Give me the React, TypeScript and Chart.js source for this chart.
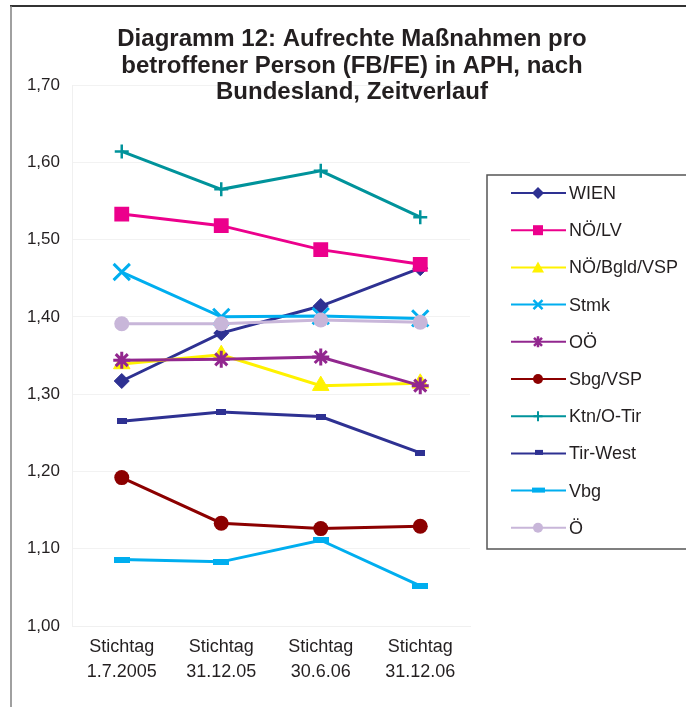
import React, { useEffect, useRef } from "react";
import { Chart, registerables } from "chart.js";

Chart.register(...registerables);

const categories: string[][] = [
  ["Stichtag", "1.7.2005"],
  ["Stichtag", "31.12.05"],
  ["Stichtag", "30.6.06"],
  ["Stichtag", "31.12.06"],
];

const titleLines = [
  "Diagramm 12: Aufrechte Maßnahmen pro",
  "betroffener Person (FB/FE) in APH, nach",
  "Bundesland, Zeitverlauf",
];

const seriesNames = [
  "WIEN",
  "NÖ/LV",
  "NÖ/Bgld/VSP",
  "Stmk",
  "OÖ",
  "Sbg/VSP",
  "Ktn/O-Tir",
  "Tir-West",
  "Vbg",
  "Ö",
];

const wien = [1.317, 1.379, 1.414, 1.463];
const noeLv = [1.533, 1.518, 1.487, 1.468];
const noeBgldVsp = [1.339, 1.351, 1.311, 1.314];
const stmk = [1.458, 1.4, 1.401, 1.398];
const ooe = [1.344, 1.345, 1.348, 1.311];
const sbgVsp = [1.192, 1.133, 1.126, 1.129];
const ktnOTir = [1.614, 1.565, 1.589, 1.529];
const tirWest = [1.265, 1.277, 1.271, 1.224];
const vbg = [1.086, 1.083, 1.111, 1.052];
const oesterreich = [1.391, 1.391, 1.396, 1.393];

const seriesValues = [wien, noeLv, noeBgldVsp, stmk, ooe, sbgVsp, ktnOTir, tirWest, vbg, oesterreich];

const seriesColors = [
  "#2E3192",
  "#EC008C",
  "#FFF200",
  "#00AEEF",
  "#92278F",
  "#8C0000",
  "#00939B",
  "#2E3192",
  "#00AEEF",
  "#C8B6D9",
];

const seriesMarkers = ["rectRot", "rect", "triangle", "crossRot", "star", "circle", "cross", "barS", "barL", "circle"];

const FONT = "'Liberation Sans', Arial, sans-serif";
const TEXT = "#231F20";

function makeBar(w: number, h: number, color: string): HTMLCanvasElement {
  const c = document.createElement("canvas");
  c.width = w;
  c.height = h;
  const g = c.getContext("2d")!;
  g.fillStyle = color;
  g.fillRect(0, 0, w, h);
  return c;
}

function drawMarker(ctx: CanvasRenderingContext2D, style: string, x: number, y: number, color: string) {
  ctx.save();
  ctx.fillStyle = color;
  ctx.strokeStyle = color;
  ctx.lineWidth = 2.5;
  ctx.beginPath();
  switch (style) {
    case "rectRot":
      ctx.moveTo(x, y - 6);
      ctx.lineTo(x + 6, y);
      ctx.lineTo(x, y + 6);
      ctx.lineTo(x - 6, y);
      ctx.closePath();
      ctx.fill();
      break;
    case "rect":
      ctx.fillRect(x - 5, y - 5, 10, 10);
      break;
    case "triangle":
      ctx.moveTo(x, y - 6);
      ctx.lineTo(x + 6, y + 5);
      ctx.lineTo(x - 6, y + 5);
      ctx.closePath();
      ctx.fill();
      break;
    case "crossRot":
      ctx.moveTo(x - 4.5, y - 4.5);
      ctx.lineTo(x + 4.5, y + 4.5);
      ctx.moveTo(x + 4.5, y - 4.5);
      ctx.lineTo(x - 4.5, y + 4.5);
      ctx.stroke();
      break;
    case "star":
      ctx.moveTo(x - 4, y - 4);
      ctx.lineTo(x + 4, y + 4);
      ctx.moveTo(x + 4, y - 4);
      ctx.lineTo(x - 4, y + 4);
      ctx.moveTo(x, y - 5.5);
      ctx.lineTo(x, y + 5.5);
      ctx.stroke();
      break;
    case "circle":
      ctx.arc(x, y, 5, 0, Math.PI * 2);
      ctx.fill();
      break;
    case "cross":
      ctx.lineWidth = 2;
      ctx.moveTo(x - 4.5, y);
      ctx.lineTo(x + 4.5, y);
      ctx.moveTo(x, y - 5);
      ctx.lineTo(x, y + 5);
      ctx.stroke();
      break;
    case "barS":
      ctx.fillRect(x - 3, y - 3.5, 8, 5);
      break;
    case "barL":
      ctx.fillRect(x - 6, y - 3, 13, 5);
      break;
  }
  ctx.restore();
}

const decorPlugin = {
  id: "decor",
  beforeDraw(chart: any) {
    const ctx = chart.ctx as CanvasRenderingContext2D;
    ctx.save();
    ctx.fillStyle = "#ffffff";
    ctx.fillRect(0, 0, chart.width, chart.height);
    ctx.strokeStyle = "#333333";
    ctx.lineWidth = 2;
    ctx.beginPath();
    ctx.moveTo(10, 6);
    ctx.lineTo(chart.width, 6);
    ctx.stroke();
    ctx.strokeStyle = "#808080";
    ctx.lineWidth = 1.5;
    ctx.beginPath();
    ctx.moveTo(11, 6);
    ctx.lineTo(11, chart.height);
    ctx.stroke();
    ctx.restore();
  },
  afterDraw(chart: any) {
    const ctx = chart.ctx as CanvasRenderingContext2D;
    ctx.save();
    // title
    ctx.fillStyle = TEXT;
    ctx.font = `bold 24px ${FONT}`;
    ctx.textAlign = "center";
    ctx.textBaseline = "alphabetic";
    titleLines.forEach((t, i) => ctx.fillText(t, 352, 46 + i * 26.5));
    // legend
    ctx.strokeStyle = "#555555";
    ctx.lineWidth = 1.5;
    ctx.strokeRect(487, 175, 220, 374);
    ctx.font = `18px ${FONT}`;
    ctx.textAlign = "left";
    ctx.textBaseline = "middle";
    seriesNames.forEach((name, i) => {
      const y = 193 + i * 37.2;
      ctx.strokeStyle = seriesColors[i];
      ctx.lineWidth = 2;
      ctx.beginPath();
      ctx.moveTo(511, y);
      ctx.lineTo(566, y);
      ctx.stroke();
      drawMarker(ctx, seriesMarkers[i], 538, y, seriesColors[i]);
      ctx.fillStyle = TEXT;
      ctx.fillText(name, 569, y + 1);
    });
    ctx.restore();
  },
};

export default function App() {
  const ref = useRef<HTMLCanvasElement | null>(null);

  useEffect(() => {
    if (!ref.current) return;
    const plotStyle = (m: string, color: string): any => {
      switch (m) {
        case "rectRot":
          return { pointStyle: "rectRot", pointRadius: 7.5, pointBorderWidth: 1 };
        case "rect":
          return { pointStyle: "rect", pointRadius: 10.5, pointBorderWidth: 0 };
        case "triangle":
          return { pointStyle: "triangle", pointRadius: 9.5, pointBorderWidth: 1 };
        case "crossRot":
          return { pointStyle: "crossRot", pointRadius: 11.5, pointBorderWidth: 3 };
        case "star":
          return { pointStyle: "star", pointRadius: 8.5, pointBorderWidth: 3 };
        case "circle":
          return { pointStyle: "circle", pointRadius: 7.5, pointBorderWidth: 0 };
        case "cross":
          return { pointStyle: "cross", pointRadius: 7, pointBorderWidth: 2.5 };
        case "barS":
          return { pointStyle: makeBar(10, 6, color), pointRadius: 5 };
        case "barL":
          return { pointStyle: makeBar(16, 6, color), pointRadius: 8 };
      }
      return {};
    };

    const datasets = seriesNames.map((name, i) => ({
      label: name,
      data: seriesValues[i],
      borderColor: seriesColors[i],
      backgroundColor: seriesColors[i],
      pointBackgroundColor: seriesColors[i],
      pointBorderColor: seriesColors[i],
      borderWidth: 3,
      tension: 0,
      order: 20 - i,
      ...plotStyle(seriesMarkers[i], seriesColors[i]),
    }));

    const chart = new Chart(ref.current, {
      type: "line",
      data: { labels: categories as any, datasets: datasets as any },
      options: {
        animation: false,
        responsive: false,
        maintainAspectRatio: false,
        events: [],
        layout: { padding: { top: 85, right: 216, left: 0, bottom: 0 } },
        plugins: {
          legend: { display: false },
          title: { display: false },
          tooltip: { enabled: false },
        },
        scales: {
          x: {
            offset: true,
            grid: { display: false, drawTicks: false },
            border: { display: true, color: "#f0f0f0", width: 1 },
            ticks: {
              color: TEXT,
              font: { family: FONT, size: 18, lineHeight: 1.4 },
              padding: 8,
              maxRotation: 0,
              autoSkip: false,
            },
            afterFit: (s: any) => {
              s.height = 81;
            },
          },
          y: {
            min: 1,
            max: 1.7,
            ticks: {
              stepSize: 0.1,
              color: TEXT,
              font: { family: FONT, size: 17 },
              padding: 12,
              callback: (v: any) => Number(v).toFixed(2).replace(".", ","),
            },
            grid: { color: "#f2f2f2", drawTicks: false, lineWidth: 1 },
            border: { display: true, color: "#f0f0f0" },
            afterFit: (s: any) => {
              s.width = 72;
            },
          },
        },
      },
      plugins: [decorPlugin],
    });
    return () => chart.destroy();
  }, []);

  return (
    <div style={{ position: "fixed", left: 0, top: 0, width: 686, height: 707, background: "#fff" }}>
      <canvas ref={ref} width={686} height={707} style={{ display: "block" }} />
    </div>
  );
}
